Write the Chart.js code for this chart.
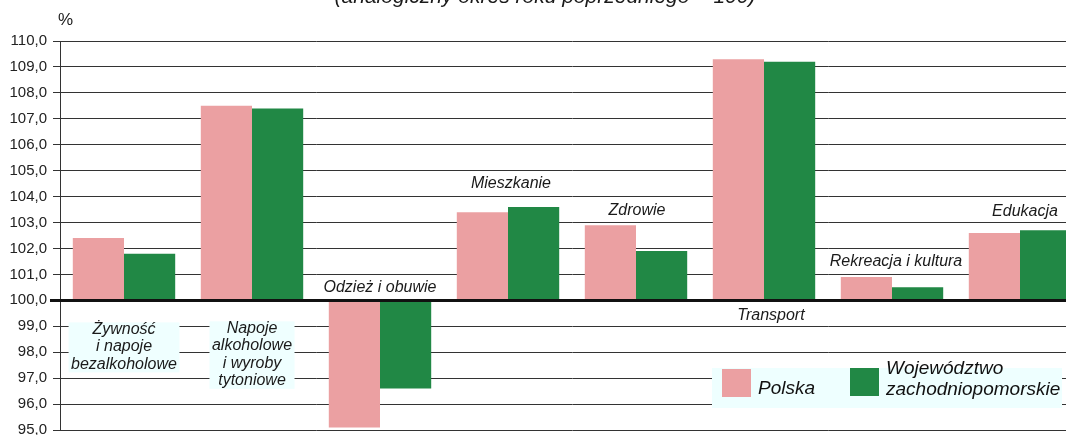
<!DOCTYPE html>
<html lang="pl">
<head>
<meta charset="utf-8">
<title>Ceny towarów i usług konsumpcyjnych</title>
<script src="https://cdn.jsdelivr.net/npm/chart.js@4/dist/chart.umd.min.js"></script>
<style>
    html, body { margin: 0; padding: 0; background: #fff; overflow: hidden; }
    #priceChart { display: block; }
</style>
</head>
<body>
<canvas id="priceChart" width="1084" height="435"></canvas>
<script>
// Data (previous year = 100)
const categories = [
    ['Żywność', 'i napoje', 'bezalkoholowe'],
    ['Napoje', 'alkoholowe', 'i wyroby', 'tytoniowe'],
    ['Odzież i obuwie'],
    ['Mieszkanie'],
    ['Zdrowie'],
    ['Transport'],
    ['Rekreacja i kultura'],
    ['Edukacja']
];
const polska = [102.4, 107.5, 95.1, 103.4, 102.9, 109.3, 100.9, 102.6];
const zachodniopomorskie = [101.8, 107.4, 96.6, 103.6, 101.9, 109.2, 100.5, 102.7];
const seriesNames = ['Polska', ['Województwo', 'zachodniopomorskie']];
const yTicks = [95, 96, 97, 98, 99, 100, 101, 102, 103, 104, 105, 106, 107, 108, 109, 110];
const baseValue = 100;
const titleText = '(analogiczny okres roku poprzedniego = 100)';
const unitText = '%';

const FONT = '"Liberation Sans", Arial, sans-serif';
const PINK = '#EBA0A2';
const GREEN = '#218845';

// where each category name sits: y value of first line, x shift, boxed or not
const labelPlacement = [
    { v: 98.88, dx: 0, box: true },
    { v: 98.92, dx: 0, box: true },
    { v: 100.5, dx: 0 },
    { v: 104.52, dx: 3 },
    { v: 103.47, dx: 1 },
    { v: 99.42, dx: 7 },
    { v: 101.5, dx: 4 },
    { v: 103.44, dx: 5 }
];

const annotations = {
    id: 'annotations',
    afterDatasetsDraw(chart) {
        const ctx = chart.ctx;
        const area = chart.chartArea;
        const x = chart.scales.x;
        const y = chart.scales.y;

        // thick base line at 100
        const y0 = Math.round(y.getPixelForValue(baseValue)) + 0.5;
        ctx.save();
        ctx.strokeStyle = '#111';
        ctx.lineWidth = 3;
        ctx.beginPath();
        ctx.moveTo(area.left - 10, y0);
        ctx.lineTo(area.right, y0);
        ctx.stroke();

        // category names
        ctx.font = 'italic 16px ' + FONT;
        ctx.textAlign = 'center';
        ctx.textBaseline = 'middle';
        const lineH = 17.5;
        categories.forEach((lines, i) => {
            const p = labelPlacement[i];
            const cx = x.getPixelForValue(i) + p.dx;
            const cy = y.getPixelForValue(p.v);
            if (p.box) {
                const w = Math.max(...lines.map(l => ctx.measureText(l).width)) + 5;
                ctx.fillStyle = '#EFFFFF';
                ctx.fillRect(cx - w / 2, cy - 7, w, (lines.length - 1) * lineH + 15);
            }
            ctx.fillStyle = '#1a1a1a';
            lines.forEach((l, k) => ctx.fillText(l, cx, cy + k * lineH));
        });

        // title (cut by the top edge) and unit
        ctx.font = 'italic 21px ' + FONT;
        ctx.textBaseline = 'alphabetic';
        ctx.fillText(titleText, 545, 3);
        ctx.font = '17px ' + FONT;
        ctx.textAlign = 'left';
        ctx.textBaseline = 'middle';
        ctx.fillText(unitText, 58, 20);

        // legend
        ctx.fillStyle = '#EEFFFF';
        ctx.fillRect(712, 368, 350, 40);
        ctx.fillStyle = PINK;
        ctx.fillRect(722, 369, 29, 28);
        ctx.fillStyle = GREEN;
        ctx.fillRect(850, 368, 29, 28);
        ctx.fillStyle = '#111';
        ctx.font = 'italic 19px ' + FONT;
        ctx.fillText(seriesNames[0], 758, 389);
        ctx.fillText(seriesNames[1][0], 886, 369);
        ctx.fillText(seriesNames[1][1], 886, 390);
        ctx.restore();
    }
};

document.addEventListener('DOMContentLoaded', function() {
    const canvas = document.getElementById('priceChart');

    new Chart(canvas, {
        type: 'bar',
        data: {
            labels: categories,
            datasets: [{
                label: seriesNames[0],
                data: polska,
                backgroundColor: PINK,
                base: baseValue,
                borderWidth: 0,
                categoryPercentage: 0.8,
                barPercentage: 1.0
            }, {
                label: seriesNames[1].join(' '),
                data: zachodniopomorskie,
                backgroundColor: GREEN,
                base: baseValue,
                borderWidth: 0,
                categoryPercentage: 0.8,
                barPercentage: 1.0
            }]
        },
        options: {
            responsive: false,
            animation: false,
            devicePixelRatio: 1,
            layout: {
                padding: { top: 41, bottom: 5, left: 0, right: 0 }
            },
            plugins: {
                legend: { display: false },
                tooltip: { enabled: false },
                title: { display: false }
            },
            scales: {
                x: {
                    display: false
                },
                y: {
                    min: yTicks[0],
                    max: yTicks[yTicks.length - 1],
                    afterFit: function(scale) {
                        scale.width = 60;
                        scale.paddingTop = 0;
                        scale.paddingBottom = 0;
                    },
                    afterBuildTicks: function(scale) {
                        scale.ticks = yTicks.map(v => ({ value: v }));
                    },
                    grid: {
                        color: '#333',
                        lineWidth: 1,
                        tickLength: 7,
                        tickColor: '#333'
                    },
                    border: { color: '#333', width: 1 },
                    ticks: {
                        padding: 6,
                        color: '#222',
                        font: { family: FONT, size: 15 },
                        callback: function(value) {
                            return value.toFixed(1).replace('.', ',');
                        }
                    }
                }
            }
        },
        plugins: [annotations]
    });
});
</script>
</body>
</html>
